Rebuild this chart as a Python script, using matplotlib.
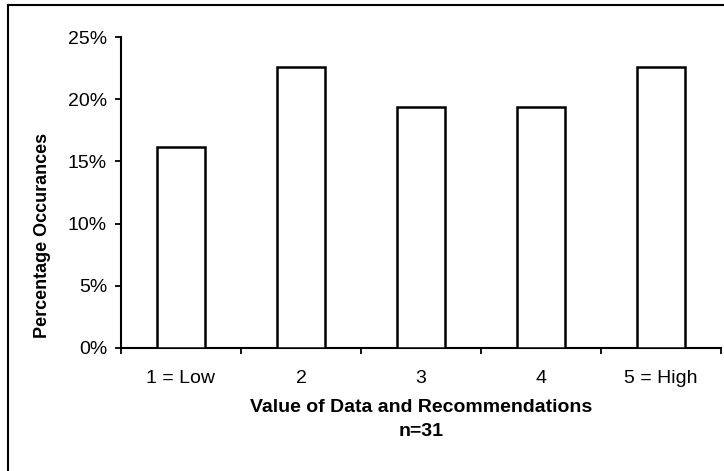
import matplotlib
matplotlib.use("Agg")
import matplotlib.pyplot as plt
from matplotlib.lines import Line2D
import numpy as np

categories = ["1 = Low", "2", "3", "4", "5 = High"]
values = [16.13, 22.58, 19.35, 19.35, 22.58]
yticks = [0, 5, 10, 15, 20, 25]
ytick_labels = ["0%", "5%", "10%", "15%", "20%", "25%"]

plt.rcParams['font.family'] = ['Liberation Sans', 'DejaVu Sans']

W, H = 724, 471
fig = plt.figure(figsize=(W/100, H/100), dpi=100)
ax = fig.add_axes([121/W, 1-348/H, 600/W, (348-37)/H])

x = np.arange(len(categories))
ax.bar(x, values, width=0.4, color="white", edgecolor="black", linewidth=1.8, zorder=3)

ax.set_xlim(-0.5, len(categories)-0.5)
ax.set_ylim(0, 25)
ax.set_yticks(yticks)
ax.set_yticklabels(ytick_labels, fontsize=14)
ax.tick_params(axis='y', direction='out', length=4, width=1.3, pad=6)

ax.set_xticks(np.arange(-0.5, len(categories), 1.0))
ax.set_xticklabels([])
ax.tick_params(axis='x', which='major', direction='out', length=4, width=1.3)
ax.set_xticks(x, minor=True)
ax.set_xticklabels(categories, minor=True, fontsize=14)
ax.tick_params(axis='x', which='minor', length=0, pad=15.5)

for s in ["top", "right"]:
    ax.spines[s].set_visible(False)
for s in ["left", "bottom"]:
    ax.spines[s].set_linewidth(1.5)

ax.set_ylabel("Percentage Occurances", fontsize=13, fontweight="bold")
ax.yaxis.set_label_coords(43/W, 0.5, transform=fig.transFigure)
ax.yaxis.label.set_va("center")

fig.text(421/W, 1-407/H, "Value of Data and Recommendations", ha="center", va="center",
         fontsize=14, fontweight="bold")
fig.text(421/W, 1-432/H, "n=31", ha="center", va="center", fontsize=14, fontweight="bold")

# outer frame lines (left and top)
fig.add_artist(Line2D([8/W, 8/W], [0, 1-5/H], transform=fig.transFigure, color="black", lw=1.5))
fig.add_artist(Line2D([8/W, 1], [1-5/H, 1-5/H], transform=fig.transFigure, color="black", lw=1.5))

fig.savefig("out.png", dpi=100)
